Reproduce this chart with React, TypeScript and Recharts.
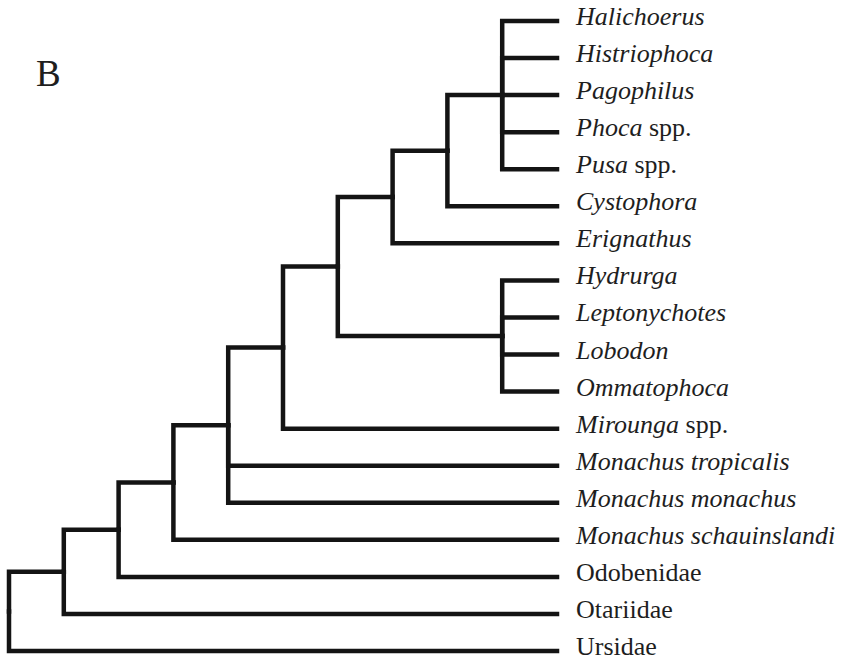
import React from "react";
import { ComposedChart, Line, XAxis, YAxis } from "recharts";

// leaf labels, top to bottom: italic part + plain part
const leafItalic = [
  "Halichoerus",
  "Histriophoca",
  "Pagophilus",
  "Phoca",
  "Pusa",
  "Cystophora",
  "Erignathus",
  "Hydrurga",
  "Leptonychotes",
  "Lobodon",
  "Ommatophoca",
  "Mirounga",
  "Monachus tropicalis",
  "Monachus monachus",
  "Monachus schauinslandi",
  "",
  "",
  "",
];
const leafPlain = ["", "", "", " spp.", " spp.", "", "", "", "", "", "", " spp.", "", "", "", "Odobenidae", "Otariidae", "Ursidae"];

const leafDepth = 10;

// internal nodes: depth from root (0) and children ("L" = leaf index, "N" = node index)
const nodeDepth = [9, 8, 7, 9, 6, 5, 4, 3, 2, 1, 0];
const nodeChildren = [
  ["L0", "L1", "L2", "L3", "L4"],
  ["N0", "L5"],
  ["N1", "L6"],
  ["L7", "L8", "L9", "L10"],
  ["N2", "N3"],
  ["N4", "L11"],
  ["N5", "L12", "L13"],
  ["N6", "L14"],
  ["N7", "L15"],
  ["N8", "L16"],
  ["N9", "L17"],
];

const leafTicks = leafItalic.map((_, i) => i);

function posOf(ref: string): { x: number; y: number } {
  const idx = Number(ref.slice(1));
  if (ref[0] === "L") return { x: leafDepth, y: idx };
  const kids = nodeChildren[idx].map(posOf);
  return { x: nodeDepth[idx], y: (kids[0].y + kids[kids.length - 1].y) / 2 };
}

// one elbow path per branch
const branches: { x: number; y: number }[][] = [];
nodeChildren.forEach((kids, i) => {
  const p = posOf("N" + i);
  kids.forEach((k) => {
    const c = posOf(k);
    branches.push([
      { x: p.x, y: p.y },
      { x: p.x, y: c.y },
      { x: c.x, y: c.y },
    ]);
  });
});

function LeafTick(props: any) {
  const { y, payload } = props;
  const i = payload.value;
  return (
    <text
      x={576}
      y={y + 4}
      fontFamily="'Liberation Serif', 'Times New Roman', serif"
      fontSize={26}
      fill="#1e1e1e"
    >
      {leafItalic[i] && <tspan fontStyle="italic">{leafItalic[i]}</tspan>}
      {leafPlain[i] && <tspan>{leafPlain[i]}</tspan>}
    </text>
  );
}

export default function App() {
  return (
    <div style={{ position: "absolute", left: 0, top: 0, width: 854, height: 662, background: "#fff" }}>
      <ComposedChart width={854} height={662} margin={{ top: 21, right: 0, left: 9, bottom: 11 }}>
        <XAxis type="number" dataKey="x" domain={[0, leafDepth]} hide />
        <YAxis
          type="number"
          dataKey="y"
          orientation="right"
          width={297}
          domain={[0, leafTicks.length - 1]}
          ticks={leafTicks}
          interval={0}
          reversed
          axisLine={false}
          tickLine={false}
          tick={<LeafTick />}
        />
        {branches.map((pts, i) => (
          <Line
            key={i}
            data={pts}
            dataKey="y"
            type="linear"
            stroke="#141414"
            strokeWidth={4.5}
            strokeLinejoin="miter"
            strokeLinecap="square"
            dot={false}
            activeDot={false}
            isAnimationActive={false}
          />
        ))}
        <text
          x={36}
          y={86}
          fontFamily="'Liberation Serif', 'Times New Roman', serif"
          fontSize={37}
          fill="#1e1e1e"
        >
          B
        </text>
      </ComposedChart>
    </div>
  );
}
